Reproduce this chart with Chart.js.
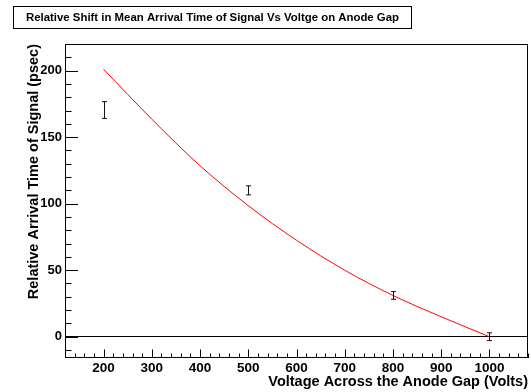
<!DOCTYPE html>
<html><head><meta charset="utf-8">
<script src="https://cdn.jsdelivr.net/npm/chart.js@4"></script>
<style>html,body{margin:0;padding:0;background:#fff}#wrap{width:531px;height:392px}</style>
</head><body><div id="wrap"><canvas id="c" width="531" height="392"></canvas></div>
<script>
const chartTitle = 'Relative Shift in Mean Arrival Time of Signal Vs Voltge on Anode Gap';
const xAxisTitle = 'Voltage Across the Anode Gap (Volts)';
const yAxisTitle = 'Relative Arrival Time of Signal (psec)';
const xTickLabels = [200, 300, 400, 500, 600, 700, 800, 900, 1000];
const yTickLabels = [0, 50, 100, 150, 200];
const measVoltage = [200, 500, 800, 1000];
const measShift = [170.4, 110, 31, 0];
const measError = [6.3, 3.4, 2.9, 2.9];
const fitVoltage = [200, 300, 400, 500, 600, 700, 800, 900, 1000];
const fitShift = [201, 163.5, 128.5, 98.5, 72.5, 50, 31, 15, 0];

const FAM = '"Liberation Sans", Arial, Helvetica, sans-serif';

const decor = {
  id: 'decor',
  afterDraw(chart) {
    const {ctx, chartArea: a, scales: {x, y}} = chart;
    ctx.save();
    ctx.strokeStyle = '#000';
    ctx.lineWidth = 1;
    // frame
    ctx.strokeRect(Math.round(a.left) + 0.5, Math.round(a.top) + 0.5, Math.round(a.right - a.left) - 1, Math.round(a.bottom - a.top) - 1);
    // inner ticks
    ctx.beginPath();
    for (let v = Math.ceil(y.min / 10) * 10; v <= y.max; v += 10) {
      const py = Math.round(y.getPixelForValue(v)) + 0.5;
      const len = v % 50 === 0 ? 13 : 6.5;
      ctx.moveTo(a.left, py); ctx.lineTo(a.left + len, py);
    }
    for (let v = Math.ceil(x.min / 20) * 20; v <= x.max; v += 20) {
      const px = Math.round(x.getPixelForValue(v)) + 0.5;
      const len = v % 100 === 0 ? 8.5 : 4.5;
      ctx.moveTo(px, a.bottom); ctx.lineTo(px, a.bottom - len);
    }
    ctx.stroke();
    // error bars
    ctx.strokeStyle = '#111';
    ctx.beginPath();
    for (let i = 0; i < measVoltage.length; i++) {
      const px = Math.round(x.getPixelForValue(measVoltage[i])) + 0.5;
      const yt = y.getPixelForValue(measShift[i] + measError[i]);
      const yb = y.getPixelForValue(measShift[i] - measError[i]);
      ctx.moveTo(px, yt); ctx.lineTo(px, yb);
      ctx.moveTo(px - 2.5, yt); ctx.lineTo(px + 2.5, yt);
      ctx.moveTo(px - 2.5, yb); ctx.lineTo(px + 2.5, yb);
    }
    ctx.stroke();
    // title box
    ctx.strokeStyle = '#000';
    ctx.strokeRect(13.5, 6.5, 398, 22);
    ctx.fillStyle = '#000';
    ctx.font = 'bold 11.4px ' + FAM;
    ctx.textAlign = 'center';
    ctx.textBaseline = 'middle';
    ctx.fillText(chartTitle, 212.5, 17.5);
    ctx.restore();
  }
};

new Chart(document.getElementById('c'), {
  type: 'line',
  data: {
    datasets: [
      {
        label: 'fit',
        data: fitVoltage.map((v, i) => ({x: v, y: fitShift[i]})),
        borderColor: '#ff0000',
        borderWidth: 1,
        pointRadius: 0,
        cubicInterpolationMode: 'monotone',
        fill: false
      },
      {
        label: 'measured',
        data: measVoltage.map((v, i) => ({x: v, y: measShift[i]})),
        showLine: false,
        pointRadius: 0,
        borderColor: '#000'
      }
    ]
  },
  options: {
    responsive: false,
    devicePixelRatio: 1,
    animation: false,
    layout: {padding: {top: 44, right: 3, left: 0, bottom: 0}},
    plugins: {legend: {display: false}, tooltip: {enabled: false}, title: {display: false}},
    scales: {
      x: {
        type: 'linear', min: 120, max: 1080,
        afterBuildTicks: s => { s.ticks = xTickLabels.map(v => ({value: v})); },
        afterFit: s => { s.height = 34; },
        grid: {display: false, drawTicks: false},
        border: {display: false},
        ticks: {font: {family: FAM, size: 13.5, weight: 'bold'}, color: '#000', padding: 2, maxRotation: 0, autoSkip: false, callback: v => String(v)},
        title: {display: true, text: xAxisTitle, align: 'end', color: '#000', font: {family: FAM, size: 14.5, weight: 'bold'}, padding: {top: 0, bottom: 1.5}}
      },
      y: {
        type: 'linear', min: -16, max: 220,
        afterBuildTicks: s => { s.ticks = yTickLabels.map(v => ({value: v})); },
        afterFit: s => { s.width = 65; },
        grid: {drawTicks: false, lineWidth: 1, color: c => (c.tick && c.tick.value === 0) ? '#000' : 'rgba(0,0,0,0)'},
        border: {display: false},
        ticks: {font: {family: FAM, size: 13, weight: 'bold'}, color: '#000', padding: 3, callback: v => String(v)},
        title: {display: true, text: yAxisTitle, align: 'end', color: '#000', font: {family: FAM, size: 14.5, weight: 'bold'}, padding: {top: 25, bottom: 0}}
      }
    }
  },
  plugins: [decor]
});
</script>
</body></html>
